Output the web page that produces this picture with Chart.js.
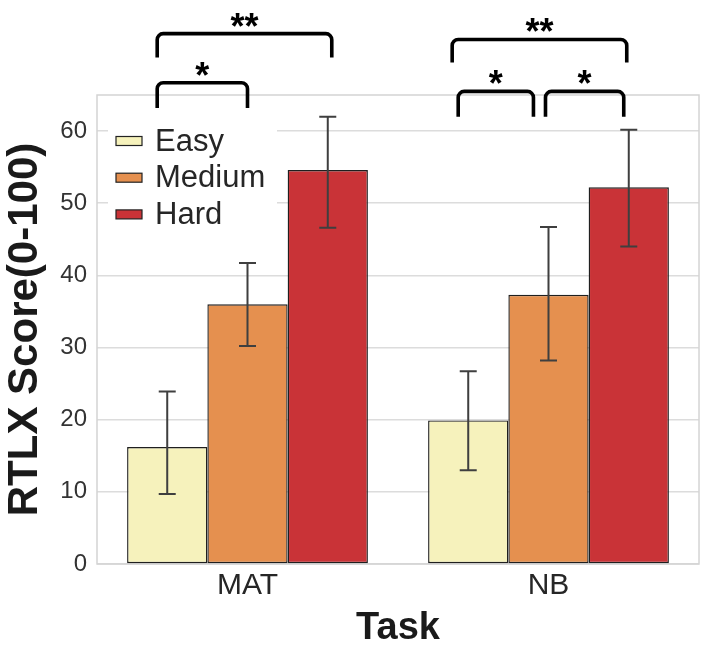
<!DOCTYPE html>
<html>
<head>
<meta charset="utf-8">
<script src="https://cdn.jsdelivr.net/npm/chart.js@4.4.0/dist/chart.umd.min.js"></script>
<style>
  html, body { margin: 0; padding: 0; background: #fff; }
  #wrap { width: 703px; height: 651px; }
</style>
</head>
<body>
<div id="wrap"><canvas id="rtlxChart" width="703" height="651"></canvas></div>
<script>
// --- Values ---
const tasks = ['MAT', 'NB'];
const levels = ['Easy', 'Medium', 'Hard'];

const easyScores = [16.2, 19.9];
const mediumScores = [36.0, 37.3];
const hardScores = [54.6, 52.2];

// error bar ends (low / high) per task
const easyLow = [9.7, 13.0];
const easyHigh = [23.9, 26.7];
const mediumLow = [30.2, 28.2];
const mediumHigh = [41.7, 46.7];
const hardLow = [46.6, 44.0];
const hardHigh = [62.0, 60.2];

const yTicks = [0, 10, 20, 30, 40, 50, 60];
const yMax = 65;

// significance brackets: task index, ends (offset from task centre, in task widths),
// height of the bar and of the leg ends (score units), label
const bracketTask = [0, 0, 1, 1, 1];
const bracketFrom = [-0.30, -0.30, -0.32, -0.30, -0.01];
const bracketTo = [0.28, 0.00, 0.26, -0.05, 0.25];
const bracketTop = [73.5, 66.7, 72.7, 65.5, 65.5];
const bracketLeg = [70.2, 63.2, 69.5, 62.0, 62.0];
const bracketLabel = ['**', '*', '**', '*', '*'];

const colors = ['#f6f2bc', '#e5904f', '#c93337'];
const FONT = '"Liberation Sans", Arial, Helvetica, sans-serif';

const errLow = [easyLow, mediumLow, hardLow];
const errHigh = [easyHigh, mediumHigh, hardHigh];

// --- Extra drawing: frame, error bars, legend, brackets ---
const extras = {
    id: 'extras',
    beforeDatasetsDraw(chart) {
        const { ctx, chartArea: a } = chart;
        ctx.save();
        ctx.strokeStyle = '#d4d4d4';
        ctx.lineWidth = 1.5;
        ctx.strokeRect(a.left, a.top, a.right - a.left, a.bottom - a.top);
        // legend backdrop hides the grid lines behind it
        ctx.fillStyle = '#ffffff';
        ctx.fillRect(a.left + 11, a.top + 22, 169, 112);
        ctx.restore();
    },
    afterDraw(chart) {
        const { ctx, chartArea: a } = chart;
        const xs = chart.scales.x;
        const ys = chart.scales.y;
        ctx.save();

        // error bars
        ctx.strokeStyle = '#3f3f3f';
        ctx.lineWidth = 2;
        chart.data.datasets.forEach((ds, i) => {
            chart.getDatasetMeta(i).data.forEach((bar, j) => {
                const y1 = ys.getPixelForValue(errLow[i][j]);
                const y2 = ys.getPixelForValue(errHigh[i][j]);
                ctx.beginPath();
                ctx.moveTo(bar.x, y1); ctx.lineTo(bar.x, y2);
                ctx.moveTo(bar.x - 8.5, y1); ctx.lineTo(bar.x + 8.5, y1);
                ctx.moveTo(bar.x - 8.5, y2); ctx.lineTo(bar.x + 8.5, y2);
                ctx.stroke();
            });
        });

        // legend
        ctx.font = '31px ' + FONT;
        ctx.textAlign = 'left';
        ctx.textBaseline = 'middle';
        chart.data.datasets.forEach((ds, i) => {
            const cy = a.top + 46 + i * 36.7;
            ctx.fillStyle = ds.backgroundColor;
            ctx.fillRect(a.left + 19, cy - 4.5, 26, 9);
            ctx.strokeStyle = '#222222';
            ctx.lineWidth = 1.2;
            ctx.strokeRect(a.left + 19, cy - 4.5, 26, 9);
            ctx.fillStyle = '#262626';
            ctx.fillText(ds.label, a.left + 58, cy + 1);
        });

        // significance brackets
        const catW = xs.getPixelForValue(1) - xs.getPixelForValue(0);
        ctx.strokeStyle = '#000000';
        ctx.fillStyle = '#000000';
        ctx.lineWidth = 3.6;
        ctx.font = 'bold 36px ' + FONT;
        ctx.textAlign = 'center';
        ctx.textBaseline = 'alphabetic';
        const r = 6;
        bracketTask.forEach((t, k) => {
            const c = xs.getPixelForValue(t);
            const x1 = c + bracketFrom[k] * catW;
            const x2 = c + bracketTo[k] * catW;
            const yt = ys.getPixelForValue(bracketTop[k]);
            const yl = ys.getPixelForValue(bracketLeg[k]);
            ctx.beginPath();
            ctx.moveTo(x1, yl);
            ctx.lineTo(x1, yt + r);
            ctx.arcTo(x1, yt, x1 + r, yt, r);
            ctx.lineTo(x2 - r, yt);
            ctx.arcTo(x2, yt, x2, yt + r, r);
            ctx.lineTo(x2, yl);
            ctx.stroke();
            ctx.fillText(bracketLabel[k], (x1 + x2) / 2, yt + 5);
        });
        ctx.restore();
    }
};

const ctx = document.getElementById('rtlxChart').getContext('2d');
new Chart(ctx, {
    type: 'bar',
    data: {
        labels: tasks,
        datasets: [
            { label: levels[0], data: easyScores, backgroundColor: colors[0] },
            { label: levels[1], data: mediumScores, backgroundColor: colors[1] },
            { label: levels[2], data: hardScores, backgroundColor: colors[2] }
        ].map(ds => ({
            ...ds,
            borderColor: '#1f1f1f',
            borderWidth: 1.4,
            borderSkipped: false,
            categoryPercentage: 0.8,
            barPercentage: 1.0
        }))
    },
    options: {
        responsive: false,
        animation: false,
        layout: { padding: { top: 95, right: 4, left: 0, bottom: 0 } },
        plugins: {
            legend: { display: false },
            tooltip: { enabled: false }
        },
        scales: {
            x: {
                grid: { display: false, drawTicks: false },
                border: { display: false },
                ticks: { color: '#262626', font: { family: FONT, size: 30 }, padding: 4 },
                title: {
                    display: true, text: 'Task', color: '#1a1a1a',
                    font: { family: FONT, size: 38, weight: 'bold' },
                    padding: { top: 0, bottom: 0 }
                },
                afterFit: s => { s.height = 87; }
            },
            y: {
                min: 0,
                max: yMax,
                afterBuildTicks: s => { s.ticks = yTicks.map(v => ({ value: v })); },
                grid: { color: '#dcdcdc', lineWidth: 1.5, drawTicks: false },
                border: { display: false },
                ticks: { color: '#333333', font: { family: FONT, size: 24 }, padding: 10 },
                title: {
                    display: true, text: 'RTLX Score(0-100)', color: '#1a1a1a',
                    font: { family: FONT, size: 42, weight: 'bold' },
                    padding: 0
                },
                afterFit: s => { s.width = 97; }
            }
        }
    },
    plugins: [extras]
});
</script>
</body>
</html>
